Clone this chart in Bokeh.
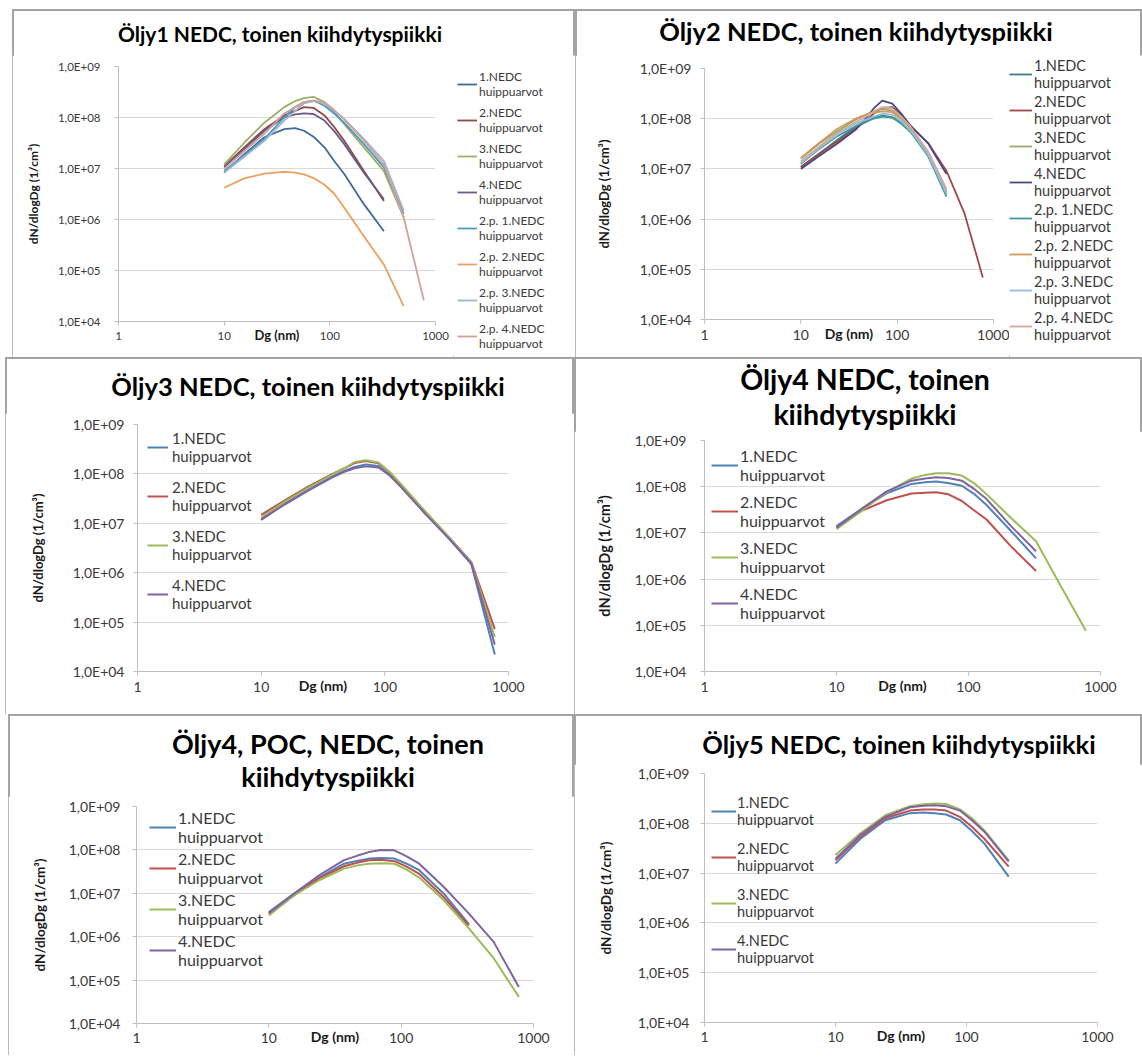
import math
from bokeh.plotting import figure
from bokeh.models import FixedTicker, Legend, LegendItem, Spacer, Div
from bokeh.layouts import column, row
from bokeh.embed import file_html
from bokeh.resources import INLINE

FONT = "Lato"

# ---------------- data ----------------
DG = [10, 15.5, 24, 37, 47, 57, 70, 89, 110, 137, 210, 325, 500, 775]
X_TICKS = [1, 10, 100, 1000]
X_TICK_LABELS = ["1", "10", "100", "1000"]
Y_TICKS = [1e4, 1e5, 1e6, 1e7, 1e8, 1e9]
Y_TICK_LABELS = ["1,0E+04", "1,0E+05", "1,0E+06", "1,0E+07", "1,0E+08", "1,0E+09"]
X_TITLE = "Dg (nm)"
Y_TITLE = "dN/dlogDg (1/cm³)"
SERIES_8 = ["1.NEDC", "2.NEDC", "3.NEDC", "4.NEDC",
            "2.p. 1.NEDC", "2.p. 2.NEDC", "2.p. 3.NEDC", "2.p. 4.NEDC"]
SERIES_4 = ["1.NEDC", "2.NEDC", "3.NEDC", "4.NEDC"]
SUFFIX = "huippuarvot"

TITLE_1 = ["Öljy1 NEDC, toinen kiihdytyspiikki"]
TITLE_2 = ["Öljy2 NEDC, toinen kiihdytyspiikki"]
TITLE_3 = ["Öljy3 NEDC, toinen kiihdytyspiikki"]
TITLE_4 = ["Öljy4 NEDC, toinen", "kiihdytyspiikki"]
TITLE_5 = ["Öljy4, POC, NEDC, toinen", "kiihdytyspiikki"]
TITLE_6 = ["Öljy5 NEDC, toinen kiihdytyspiikki"]

# Öljy1
P1_NEDC1 = [8.3e6, 1.9e7, 4.1e7, 5.9e7, 6.2e7, 5.5e7, 4.2e7, 2.6e7, 1.4e7, 7.8e6, 2.0e6, 5.9e5]
P1_NEDC2 = [1.1e7, 2.6e7, 5.9e7, 1.1e8, 1.35e8, 1.6e8, 1.55e8, 1.1e8, 6.5e7, 3.5e7, 8.9e6, 2.3e6]
P1_NEDC3 = [1.2e7, 3.2e7, 7.9e7, 1.6e8, 2.1e8, 2.4e8, 2.55e8, 2.0e8, 1.26e8, 7.4e7, 2.6e7, 8.9e6, 1.1e6]
P1_NEDC4 = [1.05e7, 2.4e7, 5.5e7, 1.0e8, 1.15e8, 1.2e8, 1.17e8, 8.7e7, 5.4e7, 3.0e7, 8.3e6, 2.5e6]
P1_2P_NEDC1 = [8.9e6, 1.8e7, 3.8e7, 1.0e8, 1.6e8, 2.0e8, 2.15e8, 1.7e8, 1.2e8, 7.9e7, 3.0e7, 1.05e7, 1.3e6]
P1_2P_NEDC2 = [4.2e6, 6.4e6, 7.9e6, 8.6e6, 8.3e6, 7.7e6, 6.5e6, 4.8e6, 3.2e6, 1.7e6, 4.7e5, 1.3e5, 2.0e4]
P1_2P_NEDC3 = [8.3e6, 1.7e7, 3.5e7, 8.7e7, 1.35e8, 1.9e8, 2.1e8, 1.9e8, 1.35e8, 9.3e7, 3.8e7, 1.4e7, 1.5e6]
P1_2P_NEDC4 = [9.8e6, 2.2e7, 4.8e7, 1.2e8, 1.6e8, 2.0e8, 2.15e8, 2.0e8, 1.4e8, 9.3e7, 3.5e7, 1.2e7, 1.1e6, 2.6e4]

# Öljy2
P2_NEDC1 = [1.07e7, 2.0e7, 3.8e7, 6.8e7, 8.5e7, 1.05e8, 1.15e8, 1.07e8, 8.3e7, 5.6e7, 1.8e7, 3.2e6]
P2_NEDC2 = [1.1e7, 2.0e7, 3.5e7, 6.3e7, 9.1e7, 1.26e8, 1.65e8, 1.7e8, 1.2e8, 7.1e7, 3.3e7, 9.1e6, 1.3e6, 6.9e4]
P2_NEDC3 = [1.6e7, 3.2e7, 5.6e7, 9.5e7, 1.2e8, 1.4e8, 1.55e8, 1.45e8, 1.05e8, 6.5e7, 2.0e7, 3.5e6]
P2_NEDC4 = [1.0e7, 1.8e7, 3.2e7, 6.0e7, 1.0e8, 1.6e8, 2.3e8, 2.0e8, 1.26e8, 7.4e7, 3.2e7, 7.9e6]
P2_2P_NEDC1 = [1.26e7, 2.5e7, 4.5e7, 7.1e7, 8.7e7, 1.0e8, 1.1e8, 1.05e8, 8.0e7, 5.5e7, 1.8e7, 2.8e6]
P2_2P_NEDC2 = [1.66e7, 3.3e7, 6.3e7, 1.0e8, 1.2e8, 1.3e8, 1.4e8, 1.35e8, 1.0e8, 6.5e7, 2.0e7, 3.5e6]
P2_2P_NEDC3 = [1.3e7, 2.6e7, 4.8e7, 7.9e7, 9.5e7, 1.1e8, 1.25e8, 1.2e8, 9.0e7, 5.8e7, 1.9e7, 3.2e6]
P2_2P_NEDC4 = [1.4e7, 2.8e7, 5.2e7, 8.5e7, 1.1e8, 1.4e8, 1.7e8, 1.6e8, 1.1e8, 7.0e7, 2.2e7, 4.0e6]

# Öljy3
P3_NEDC1 = [1.17e7, 2.5e7, 4.8e7, 8.7e7, 1.15e8, 1.38e8, 1.55e8, 1.45e8, 9.5e7, 5.4e7, 1.66e7, 5.2e6, 1.5e6, 2.2e4]
P3_NEDC2 = [1.48e7, 2.9e7, 5.5e7, 9.8e7, 1.3e8, 1.66e8, 1.82e8, 1.65e8, 1.05e8, 5.8e7, 1.74e7, 5.4e6, 1.66e6, 7.2e4]
P3_NEDC3 = [1.3e7, 2.75e7, 5.2e7, 9.5e7, 1.3e8, 1.74e8, 1.9e8, 1.7e8, 1.08e8, 6.0e7, 1.8e7, 5.5e6, 1.6e6, 5.0e4]
P3_NEDC4 = [1.2e7, 2.4e7, 4.6e7, 8.3e7, 1.1e8, 1.3e8, 1.42e8, 1.35e8, 9.2e7, 5.2e7, 1.6e7, 5.1e6, 1.55e6, 3.5e4]

# Öljy4
P4_NEDC1 = [1.4e7, 3.3e7, 7.2e7, 1.15e8, 1.25e8, 1.3e8, 1.2e8, 1.05e8, 7.0e7, 4.0e7, 1.1e7, 2.8e6]
P4_NEDC2 = [1.3e7, 3.0e7, 5.1e7, 7.1e7, 7.4e7, 7.6e7, 6.9e7, 4.9e7, 3.1e7, 1.95e7, 5.1e6, 1.5e6]
P4_NEDC3 = [1.2e7, 3.0e7, 7.6e7, 1.5e8, 1.8e8, 1.95e8, 1.95e8, 1.74e8, 1.2e8, 6.9e7, 2.1e7, 6.6e6, 7.1e5, 7.6e4]
P4_NEDC4 = [1.3e7, 3.3e7, 7.9e7, 1.35e8, 1.5e8, 1.6e8, 1.55e8, 1.35e8, 9.0e7, 5.4e7, 1.4e7, 4.0e6]

# Öljy4, POC
P5_NEDC1 = [3.7e6, 9.8e6, 2.3e7, 4.8e7, 5.6e7, 6.3e7, 6.5e7, 6.3e7, 4.8e7, 3.4e7, 9.8e6, 1.95e6]
P5_NEDC2 = [3.4e6, 8.9e6, 2.2e7, 4.2e7, 5.1e7, 5.8e7, 5.9e7, 5.5e7, 4.1e7, 2.8e7, 8.1e6, 1.8e6]
P5_NEDC3 = [3.1e6, 8.9e6, 2.0e7, 3.7e7, 4.4e7, 4.8e7, 4.9e7, 4.8e7, 3.5e7, 2.3e7, 6.9e6, 1.55e6, 3.2e5, 4.1e4]
P5_NEDC4 = [3.5e6, 9.8e6, 2.6e7, 5.8e7, 7.4e7, 8.9e7, 1.0e8, 9.8e7, 7.1e7, 4.8e7, 1.4e7, 3.4e6, 7.6e5, 6.9e4]

# Öljy5
P6_NEDC1 = [1.55e7, 4.9e7, 1.15e8, 1.6e8, 1.65e8, 1.6e8, 1.5e8, 1.15e8, 7.0e7, 3.9e7, 8.5e6]
P6_NEDC2 = [1.8e7, 5.4e7, 1.26e8, 1.8e8, 1.9e8, 1.9e8, 1.8e8, 1.35e8, 8.5e7, 4.9e7, 1.35e7]
P6_NEDC3 = [2.3e7, 6.3e7, 1.45e8, 2.2e8, 2.4e8, 2.5e8, 2.45e8, 1.9e8, 1.26e8, 7.2e7, 1.8e7]
P6_NEDC4 = [1.95e7, 5.8e7, 1.35e8, 2.1e8, 2.25e8, 2.3e8, 2.2e8, 1.8e8, 1.15e8, 6.8e7, 1.7e7]

# ---------------- styles ----------------
COLORS_8A = ["#3e6a9a", "#8e4848", "#9bb064", "#6a5a85", "#4a9cc0", "#eca060", "#a0b4cc", "#d0a09a"]
COLORS_8B = ["#3e7c8c", "#a04848", "#9aa86a", "#4a4a80", "#3a9a9a", "#d09a58", "#8cc0dc", "#d4a8a0"]
COLORS_4 = ["#4f81bd", "#c0504d", "#9bbb59", "#8064a2"]
OUTLINE = {"outline": "2px solid #a3a3a3", "outline-offset": "-2px"}


def no_align(p):
    if hasattr(p, "frame_align"):
        p.frame_align = False


def legend_for(items, s, height_ref):
    n = len(items)
    H = n * s["item"] + (n - 1) * s["lsp"]
    top = s["lfirst"] - s["lf"] / 2 + 1
    return Legend(items=items, location=(s["lx"], height_ref - top - H),
                  padding=0, margin=0, spacing=s["lsp"],
                  glyph_width=s["gw"], glyph_height=12, label_height=12,
                  label_standoff=s["lst"], label_text_font=FONT,
                  label_text_font_size=f"{s['lf']}px", label_text_line_height=s["llh"],
                  label_text_color="#3a3a3a", border_line_color=None,
                  background_fill_alpha=0)


def title_div(lines, total_w, s):
    c = s["tc"]
    pad_l = max(0, 2 * c - total_w)
    pad_r = max(0, total_w - 2 * c)
    return Div(text="<br>".join(lines), width=total_w, height=s["div_h"], margin=0,
               styles={"font-family": FONT, "font-weight": "bold",
                       "font-size": f"{s['ts']}px", "line-height": f"{s['div_lh']}px",
                       "color": "#000000", "text-align": "center",
                       "white-space": "nowrap", "box-sizing": "border-box",
                       "padding-top": f"{s['div_pt']}px",
                       "padding-left": f"{pad_l}px", "padding-right": f"{pad_r}px"})


def make_panel(title_lines, names, data, colors, s):
    separate = "lw_fig" in s
    fh = s["h"] - s["T"] - s["B"]
    p = figure(width=s["w"], height=s["h"], x_axis_type="log", y_axis_type="log",
               x_range=(X_TICKS[0], X_TICKS[-1]), y_range=(Y_TICKS[0], Y_TICKS[-1]),
               output_backend="svg", toolbar_location=None,
               min_border_left=s["L"], min_border_right=s["R"],
               min_border_top=s["T"], min_border_bottom=s["B"])
    no_align(p)
    p.background_fill_color = "white"
    p.border_fill_color = "white"
    p.outline_line_color = None

    for ax, ticks, labels in ((p.xaxis[0], X_TICKS, X_TICK_LABELS),
                              (p.yaxis[0], Y_TICKS, Y_TICK_LABELS)):
        ax.ticker = FixedTicker(ticks=ticks)
        ax.major_label_overrides = {t: l for t, l in zip(ticks, labels)}
        ax.axis_line_color = "#bfbfbf"
        ax.major_tick_line_color = "#bfbfbf"
        ax.major_tick_in = 0
        ax.major_tick_out = 4
        ax.minor_tick_line_color = None
        ax.major_label_text_font = FONT
        ax.major_label_text_font_size = f"{s['tk']}px"
        ax.major_label_text_color = "#3a3a3a"
    p.xaxis.major_label_standoff = s["xst"]
    p.yaxis.major_label_standoff = s["yst"]

    p.yaxis.axis_label = Y_TITLE
    p.yaxis.axis_label_text_font = FONT
    p.yaxis.axis_label_text_font_style = "bold"
    p.yaxis.axis_label_text_font_size = f"{s['yl']}px"
    p.yaxis.axis_label_text_color = "#1a1a1a"
    p.yaxis.axis_label_standoff = s["ylst"]

    p.xaxis.axis_label = X_TITLE
    p.xaxis.axis_label_text_font = FONT
    p.xaxis.axis_label_text_font_style = "bold"
    p.xaxis.axis_label_text_font_size = f"{s['dg']}px"
    p.xaxis.axis_label_text_color = "#1a1a1a"
    p.xaxis.axis_label_standoff = s["dgst"]

    p.xgrid.visible = False
    p.ygrid.grid_line_color = "#d9d9d9"
    p.ygrid.grid_line_width = 1

    renderers = []
    for vals, col in zip(data, colors):
        renderers.append(p.line(DG[:len(vals)], vals, line_color=col, line_width=s["lw"]))

    if separate:
        # legend in its own narrow figure to the right of the plot area;
        # its proxy lines carry the same series but lie outside its (0..1) view
        lfig = figure(width=s["lw_fig"], height=s["h"], x_range=(0, 1), y_range=(0, 1),
                      x_axis_location=None, y_axis_location=None,
                      output_backend="svg", toolbar_location=None,
                      min_border_left=0, min_border_right=0,
                      min_border_top=0, min_border_bottom=0)
        no_align(lfig)
        lfig.grid.visible = False
        lfig.outline_line_color = None
        lfig.background_fill_color = "white"
        lfig.border_fill_color = "white"
        items = []
        for name, vals, col in zip(names, data, colors):
            proxy = lfig.line(DG[:len(vals)], vals, line_color=col, line_width=s["lw"])
            items.append(LegendItem(label=f"{name}\n{SUFFIX}", renderers=[proxy]))
        lfig.add_layout(legend_for(items, s, s["h"]))
        head = title_div(title_lines, s["w"] + s["lw_fig"], s)
        return column(head, row(p, lfig), styles=OUTLINE)

    items = [LegendItem(label=f"{name}\n{SUFFIX}", renderers=[r])
             for name, r in zip(names, renderers)]
    p.add_layout(legend_for(items, s, fh))
    head = title_div(title_lines, s["w"], s)
    return column(head, p, styles=OUTLINE)


S1 = dict(w=441, lw_fig=122, h=302, L=106, R=18, T=11, B=36,
          ts=21, div_h=46, div_pt=12, div_lh=25, tc=268,
          tk=11.5, xst=6, yst=14, yl=12, ylst=14, lw=1.8, dg=13, dgst=-16,
          lf=12, llh=1.5, item=30, lsp=6, gw=20, lst=2, lx=4, lfirst=19)
S2 = dict(w=434, lw_fig=133, h=302, L=129, R=16, T=13, B=38,
          ts=25.5, div_h=46, div_pt=7, div_lh=31, tc=281,
          tk=14, xst=6, yst=9, yl=13, ylst=25, lw=1.8, dg=14, dgst=-18,
          lf=14.5, llh=1.26, item=34, lsp=2, gw=23, lst=2, lx=0, lfirst=8)
S3 = dict(w=569, h=301, L=132, R=66, T=11, B=43,
          ts=25.5, div_h=56, div_pt=14, div_lh=31, tc=303,
          tk=14, xst=6, yst=9, yl=13, ylst=24, lw=2, dg=14, dgst=-18,
          lf=15, llh=1.2, item=35, lsp=13, gw=21, lst=4, lx=10, lfirst=15)
S4 = dict(w=568, h=283, L=130, R=42, T=9, B=43,
          ts=28.5, div_h=74, div_pt=5, div_lh=35, tc=291,
          tk=14, xst=6, yst=14, yl=14.5, ylst=19, lw=2, dg=14, dgst=-18,
          lf=16, llh=1.2, item=38, lsp=8, gw=27, lst=2, lx=7, lfirst=13)
S5 = dict(w=566, h=259, L=128, R=41, T=10, B=32,
          ts=27, div_h=82, div_pt=13, div_lh=33, tc=320,
          tk=14, xst=5, yst=12, yl=13.5, ylst=18, lw=2, dg=14, dgst=-18,
          lf=16, llh=1.1, item=37, lsp=3, gw=27, lst=2, lx=13, lfirst=13)
S6 = dict(w=568, h=291, L=130, R=45, T=9, B=33,
          ts=25.5, div_h=50, div_pt=15, div_lh=31, tc=325,
          tk=14, xst=5, yst=11, yl=13.5, ylst=21, lw=2, dg=14, dgst=-18,
          lf=14.5, llh=1.24, item=34, lsp=12, gw=25, lst=1, lx=7, lfirst=27)

p1 = make_panel(TITLE_1, SERIES_8,
                [P1_NEDC1, P1_NEDC2, P1_NEDC3, P1_NEDC4, P1_2P_NEDC1, P1_2P_NEDC2, P1_2P_NEDC3, P1_2P_NEDC4],
                COLORS_8A, S1)
p2 = make_panel(TITLE_2, SERIES_8,
                [P2_NEDC1, P2_NEDC2, P2_NEDC3, P2_NEDC4, P2_2P_NEDC1, P2_2P_NEDC2, P2_2P_NEDC3, P2_2P_NEDC4],
                COLORS_8B, S2)
p3 = make_panel(TITLE_3, SERIES_4, [P3_NEDC1, P3_NEDC2, P3_NEDC3, P3_NEDC4], COLORS_4, S3)
p4 = make_panel(TITLE_4, SERIES_4, [P4_NEDC1, P4_NEDC2, P4_NEDC3, P4_NEDC4], COLORS_4, S4)
p5 = make_panel(TITLE_5, SERIES_4, [P5_NEDC1, P5_NEDC2, P5_NEDC3, P5_NEDC4], COLORS_4, S5)
p6 = make_panel(TITLE_6, SERIES_4, [P6_NEDC1, P6_NEDC2, P6_NEDC3, P6_NEDC4], COLORS_4, S6)

layout = column(
    Spacer(width=10, height=9),
    row(Spacer(width=12, height=10), p1, p2),
    row(Spacer(width=5, height=10), p3, p4),
    row(Spacer(width=8, height=10), p5, p6),
)
open("out.html", "w").write(file_html(layout, INLINE))
